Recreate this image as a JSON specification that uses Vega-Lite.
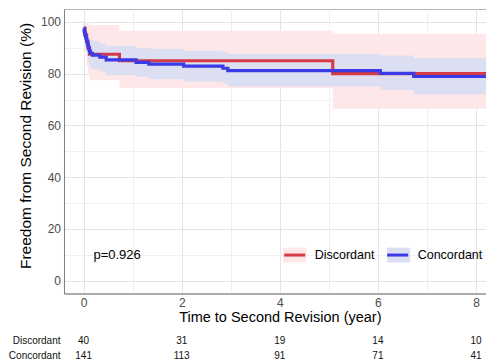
{
  "$schema": "https://vega.github.io/schema/vega-lite/v6.json",
  "autosize": {"type": "pad"},
  "padding": {"left": 8, "top": 8, "right": 0, "bottom": 0},
  "bounds": "flush",
  "spacing": 39.5,
  "config": {
    "font": "Liberation Sans",
    "view": {"stroke": null},
    "axis": {
      "labelFontSize": 12,
      "labelColor": "#4d4d4d",
      "titleFontSize": 14.5,
      "titleFontWeight": "normal",
      "titleColor": "#000000",
      "domainColor": "#808080",
      "tickColor": "#333333",
      "labelFlush": false,
      "labelOverlap": false
    },
    "axisX": {
      "values": [0, 1, 2, 3, 4, 5, 6, 7, 8],
      "labelExpr": "datum.value % 2 === 0 ? datum.label : ''",
      "tickSize": 3,
      "labelPadding": 1.5,
      "titlePadding": 1.5,
      "tickOpacity": {"condition": {"test": "datum.value % 2 === 0", "value": 1}, "value": 0},
      "gridColor": {"condition": {"test": "datum.value % 2 === 0", "value": "#e4e4e4"}, "value": "#efefef"}
    },
    "axisY": {
      "values": [0, 10, 20, 30, 40, 50, 60, 70, 80, 90, 100],
      "labelExpr": "datum.value % 20 === 0 ? datum.label : ''",
      "tickSize": 2.5,
      "labelPadding": 1,
      "titlePadding": 7,
      "titleFontSize": 15.5,
      "titleY": 136.5,
      "tickOpacity": {"condition": {"test": "datum.value % 20 === 0", "value": 1}, "value": 0},
      "gridColor": {"condition": {"test": "datum.value % 20 === 0", "value": "#e4e4e4"}, "value": "#efefef"}
    }
  },
  "datasets": {
    "km": [
      {"group": "Discordant", "t": 0, "s": 97.5, "lo": 93.0, "hi": 100},
      {"group": "Discordant", "t": 0.03, "s": 95, "lo": 88.5, "hi": 100},
      {"group": "Discordant", "t": 0.06, "s": 92.5, "lo": 83.0, "hi": 100},
      {"group": "Discordant", "t": 0.09, "s": 90, "lo": 79.5, "hi": 99.5},
      {"group": "Discordant", "t": 0.12, "s": 87.5, "lo": 77.5, "hi": 98.8},
      {"group": "Discordant", "t": 0.73, "s": 85, "lo": 74.5, "hi": 96.6},
      {"group": "Discordant", "t": 5.08, "s": 80, "lo": 66.4, "hi": 95.4},
      {"group": "Discordant", "t": 8.4, "s": 80, "lo": 66.4, "hi": 95.4},
      {"group": "Concordant", "t": 0, "s": 97.5, "lo": 95.0, "hi": 100},
      {"group": "Concordant", "t": 0.01, "s": 96.5, "lo": 93.6, "hi": 99.6},
      {"group": "Concordant", "t": 0.02, "s": 95.7, "lo": 92.4, "hi": 99.2},
      {"group": "Concordant", "t": 0.03, "s": 95.0, "lo": 91.3, "hi": 98.7},
      {"group": "Concordant", "t": 0.04, "s": 94.3, "lo": 90.2, "hi": 98.3},
      {"group": "Concordant", "t": 0.05, "s": 93.6, "lo": 89.2, "hi": 97.8},
      {"group": "Concordant", "t": 0.06, "s": 92.9, "lo": 88.1, "hi": 97.3},
      {"group": "Concordant", "t": 0.07, "s": 92.2, "lo": 87.0, "hi": 96.8},
      {"group": "Concordant", "t": 0.08, "s": 91.5, "lo": 86.0, "hi": 96.3},
      {"group": "Concordant", "t": 0.09, "s": 90.8, "lo": 85.0, "hi": 95.7},
      {"group": "Concordant", "t": 0.10, "s": 90.1, "lo": 84.0, "hi": 95.2},
      {"group": "Concordant", "t": 0.11, "s": 89.4, "lo": 83.2, "hi": 94.5},
      {"group": "Concordant", "t": 0.12, "s": 88.7, "lo": 82.5, "hi": 93.8},
      {"group": "Concordant", "t": 0.14, "s": 87.9, "lo": 82.0, "hi": 93.2},
      {"group": "Concordant", "t": 0.18, "s": 87.2, "lo": 81.8, "hi": 92.7},
      {"group": "Concordant", "t": 0.33, "s": 86.4, "lo": 80.8, "hi": 91.6},
      {"group": "Concordant", "t": 0.46, "s": 85.3, "lo": 79.4, "hi": 90.8},
      {"group": "Concordant", "t": 1.07, "s": 84.4, "lo": 78.8, "hi": 89.9},
      {"group": "Concordant", "t": 1.33, "s": 83.7, "lo": 77.8, "hi": 89.6},
      {"group": "Concordant", "t": 2.04, "s": 82.9, "lo": 77.0, "hi": 88.9},
      {"group": "Concordant", "t": 2.84, "s": 82.1, "lo": 76.2, "hi": 88.3},
      {"group": "Concordant", "t": 2.94, "s": 81.2, "lo": 75.0, "hi": 87.7},
      {"group": "Concordant", "t": 6.05, "s": 80.1, "lo": 73.7, "hi": 87.0},
      {"group": "Concordant", "t": 6.73, "s": 78.9, "lo": 71.9, "hi": 86.1},
      {"group": "Concordant", "t": 8.4, "s": 78.9, "lo": 71.9, "hi": 86.1}
    ],
    "ann": [{"t": 0.2, "v": 10, "label": "p=0.926"}],
    "risk": [
      {"group": "Discordant", "t": 0, "n": 40},
      {"group": "Discordant", "t": 2, "n": 31},
      {"group": "Discordant", "t": 4, "n": 19},
      {"group": "Discordant", "t": 6, "n": 14},
      {"group": "Discordant", "t": 8, "n": 10},
      {"group": "Concordant", "t": 0, "n": 141},
      {"group": "Concordant", "t": 2, "n": 113},
      {"group": "Concordant", "t": 4, "n": 91},
      {"group": "Concordant", "t": 6, "n": 71},
      {"group": "Concordant", "t": 8, "n": 41}
    ]
  },
  "vconcat": [
    {
      "width": 431.6,
      "height": 284.5,
      "view": {"stroke": "#b3b3b3"},
      "layer": [
        {
          "data": {"name": "km"},
          "mark": {"type": "area", "interpolate": "step-after", "clip": true},
          "encoding": {
            "x": {
              "field": "t", "type": "quantitative",
              "scale": {"domain": [-0.4, 8.4], "nice": false, "zero": false},
              "title": "Time to Second Revision (year)"
            },
            "y": {
              "field": "lo", "type": "quantitative",
              "scale": {"domain": [-5, 105], "nice": false, "zero": false},
              "title": "Freedom from Second Revision (%)"
            },
            "y2": {"field": "hi"},
            "fill": {
              "field": "group", "type": "nominal",
              "scale": {"domain": ["Discordant", "Concordant"], "range": ["#fde7e8", "#dcdff2"]},
              "legend": {
                "orient": "none", "legendX": 217.7, "legendY": 232.8,
                "direction": "horizontal", "title": null, "padding": 0,
                "symbolType": "M-1,-0.65H1V0.65H-1Z", "symbolSize": 529,
                "symbolStrokeWidth": 3, "symbolStrokeColor": "transparent", "symbolOpacity": 1,
                "labelFontSize": 12.5, "labelColor": "#000000", "labelOffset": 7,
                "columnPadding": 6, "labelOpacity": 0
              }
            }
          }
        },
        {
          "data": {"name": "km"},
          "mark": {"type": "line", "interpolate": "step-after", "strokeWidth": 3.2, "clip": true},
          "encoding": {
            "x": {"field": "t", "type": "quantitative", "title": "Time to Second Revision (year)"},
            "y": {"field": "s", "type": "quantitative", "title": "Freedom from Second Revision (%)"},
            "stroke": {
              "field": "group", "type": "nominal", "sort": "descending",
              "scale": {"range": ["#d63a45", "#3a3ae6"]},
              "legend": {
                "orient": "none", "legendX": 217.7, "legendY": 232.8,
                "direction": "horizontal", "title": null, "padding": 0,
                "symbolType": "M-0.913,0H0.913", "symbolSize": 529,
                "symbolStrokeWidth": 3, "symbolFillColor": "transparent", "symbolOpacity": 1,
                "labelFontSize": 12.5, "labelColor": "#000000", "labelOffset": 7,
                "columnPadding": 6
              }
            }
          }
        },
        {
          "data": {"name": "ann"},
          "mark": {"type": "text", "align": "left", "baseline": "middle", "fontSize": 13, "color": "#000000"},
          "encoding": {
            "x": {"field": "t", "type": "quantitative", "title": "Time to Second Revision (year)"},
            "y": {"field": "v", "type": "quantitative", "title": "Freedom from Second Revision (%)"},
            "text": {"field": "label"}
          }
        }
      ]
    },
    {
      "width": 431.6,
      "height": 30,
      "data": {"name": "risk"},
      "mark": {"type": "text", "fontSize": 10, "color": "#111111", "baseline": "middle"},
      "encoding": {
        "x": {
          "field": "t", "type": "quantitative",
          "scale": {"domain": [-0.4, 8.4], "nice": false, "zero": false},
          "axis": null
        },
        "y": {
          "field": "group", "type": "nominal",
          "scale": {"type": "point", "domain": ["Discordant", "Concordant"], "padding": 0.5},
          "axis": {"title": null, "domain": false, "ticks": false, "grid": false, "labelPadding": 4, "labelFontSize": 10, "labelColor": "#111111", "values": ["Discordant", "Concordant"], "labelExpr": "datum.label", "tickOpacity": 0, "titleY": null}
        },
        "text": {"field": "n", "type": "quantitative"}
      }
    }
  ]
}
